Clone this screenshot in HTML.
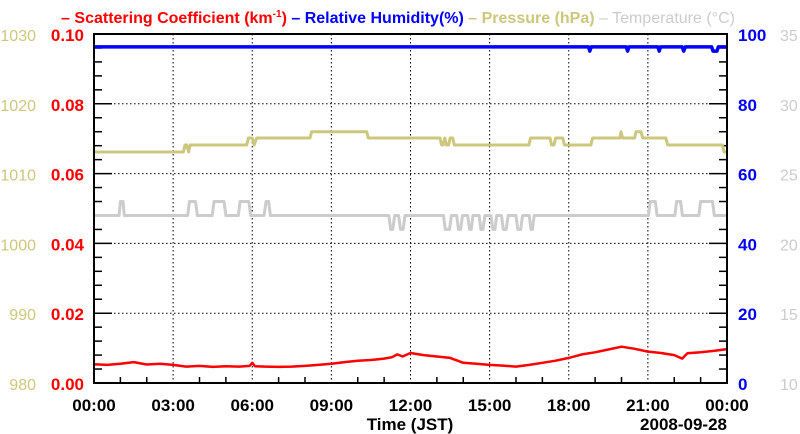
<!DOCTYPE html>
<html><head><meta charset="utf-8"><style>
body{margin:0;background:#fff;width:800px;height:434px;overflow:hidden}
svg{display:block;font-family:"Liberation Sans",sans-serif;font-weight:bold}
</style></head><body>
<svg id="c" width="800" height="434"></svg>
<script>
const hoursTicks=["00:00","03:00","06:00","09:00","12:00","15:00","18:00","21:00","00:00"];
const scatTicks=["0.00","0.02","0.04","0.06","0.08","0.10"];
const presTicks=["980","990","1000","1010","1020","1030"];
const rhTicks=["0","20","40","60","80","100"];
const tempTicks=["10","15","20","25","30","35"];
const scatHours=[0,0.5,1,1.5,2,2.5,3,3.5,4,4.5,5,5.5,5.9,6,6.1,6.5,7,7.5,8,8.5,9,9.5,10,10.5,11,11.3,11.5,11.7,12,12.5,13,13.5,14,14.5,15,15.5,16,16.5,17,17.5,18,18.5,19,19.5,20,20.5,21,21.5,22,22.3,22.5,23,23.5,24];
const scatVals=[0.0054,0.0052,0.0055,0.0060,0.0053,0.0055,0.0052,0.0047,0.0049,0.0046,0.0048,0.0047,0.0049,0.0058,0.0048,0.0047,0.0046,0.0047,0.0049,0.0052,0.0055,0.0060,0.0064,0.0066,0.0070,0.0074,0.0082,0.0076,0.0086,0.0080,0.0076,0.0072,0.0058,0.0055,0.0052,0.0050,0.0047,0.0052,0.0058,0.0064,0.0072,0.0082,0.0088,0.0096,0.0104,0.0098,0.0090,0.0086,0.0080,0.0070,0.0085,0.0088,0.0092,0.0097];
const rhHours=[0,18.75,18.8,18.85,20.18,20.23,20.28,21.38,21.43,21.48,22.3,22.36,22.42,23.42,23.47,23.62,23.67,24];
const rhVals=[96.3,96.3,95.1,96.3,96.3,95.1,96.3,96.3,95.1,96.3,96.3,95.1,96.3,96.3,95.1,95.1,96.3,96.3];
const presHours=[0,3.39,3.45,3.51,3.59,3.64,5.79,5.85,6.0,6.07,6.17,8.19,8.25,10.34,10.4,13.12,13.18,13.24,13.3,13.36,13.45,13.5,13.6,13.66,13.8,16.49,16.55,17.29,17.35,17.44,17.5,17.77,17.84,18.84,18.9,19.94,19.98,20.04,20.5,20.55,20.74,20.8,21.68,21.75,23.82,23.89,24];
const presVals=[1013.1,1013.1,1014.1,1014.1,1013.1,1014.1,1014.1,1015.1,1015.1,1014.1,1015.1,1015.1,1016.0,1016.0,1015.1,1015.1,1014.1,1014.1,1015.1,1014.1,1014.1,1015.1,1015.1,1014.1,1014.1,1014.1,1015.1,1015.1,1014.1,1014.1,1015.1,1015.1,1014.1,1014.1,1015.1,1015.1,1016.0,1015.1,1015.1,1016.0,1016.0,1015.1,1015.1,1014.1,1014.1,1013.1,1013.1];
const tempHours=[0,0.95,1.0,1.1,1.15,3.55,3.62,3.85,3.92,4.48,4.55,4.93,5.0,5.47,5.54,5.87,5.94,6.45,6.52,6.62,6.69,11.18,11.25,11.33,11.4,11.55,11.62,11.72,11.79,13.25,13.32,13.48,13.55,13.75,13.82,13.9,13.97,14.17,14.24,14.3,14.37,14.6,14.67,14.75,14.82,15.05,15.12,15.2,15.27,15.45,15.52,15.63,15.7,16.0,16.07,16.18,16.25,16.5,16.57,16.62,16.69,21.02,21.09,21.28,21.35,22.02,22.09,22.24,22.31,22.93,23.0,23.45,23.52,24];
const tempVals=[22,22,23,23,22,22,23,23,22,22,23,23,22,22,23,23,22,22,23,23,22,22,21,21,22,22,21,21,22,22,21,21,22,22,21,21,22,22,21,21,22,22,21,21,22,22,21,21,22,22,21,21,22,22,21,21,22,22,21,21,22,22,23,23,22,22,23,23,22,22,23,23,22,22];

const L=94,R=727,T=34,B=383;
const NS="http://www.w3.org/2000/svg";
const svg=document.getElementById('c');
function el(tag,attrs,parent){const e=document.createElementNS(NS,tag);for(const k in attrs)e.setAttribute(k,attrs[k]);(parent||svg).appendChild(e);return e;}
const xS=h=>L+(R-L)*h/24;
const yScat=v=>B-(B-T)*v/0.1;
const yRH=v=>B-(B-T)*v/100;
const yPres=v=>B-(B-T)*(v-980)/50;
const yTemp=v=>B-(B-T)*(v-10)/25;

// grid
for(let i=1;i<8;i++){const g=el('line',{x1:xS(i*3),x2:xS(i*3),y1:T,y2:B,stroke:'#000','stroke-width':1,'stroke-dasharray':'1.5,2.5'});

}
for(let i=1;i<5;i++){const g=el('line',{x1:L,x2:R,y1:yScat(i*0.02),y2:yScat(i*0.02),stroke:'#000','stroke-width':1,'stroke-dasharray':'1.5,2.5'});

}
// ticks
for(let h=0;h<=24;h++){const len=h%3==0?0:6;if(!len)continue;
const t=el('line',{x1:xS(h),x2:xS(h),y1:B,y2:B-len,stroke:'#000','stroke-width':1.5});

}
for(let i=0;i<=25;i++){const y=B-(B-T)*i/25;const len=i%5==0?18:8;
const a=el('line',{x1:L,x2:L+len,y1:y,y2:y,stroke:'#000','stroke-width':1.5});


const b=el('line',{x1:R,x2:R-len,y1:y,y2:y,stroke:'#000','stroke-width':1.5});

}

function series(hs,vs,yf,color,name,w){let d='';hs.forEach((h,i)=>{d+=(i?'L':'M')+xS(h).toFixed(1)+','+yf(vs[i]).toFixed(1);});
const p=el('path',{d:d,fill:'none',stroke:color,'stroke-width':w,'stroke-linejoin':'round'});

}
series(tempHours,tempVals,yTemp,'#cccccc','temperature-line',3);
series(presHours,presVals,yPres,'#cdc77e','pressure-line',3);
series(rhHours,rhVals,yRH,'#0000ff','humidity-line',3.5);
series(scatHours,scatVals,yScat,'#ff0000','scattering-line',2.5);

const fr=el('rect',{x:L,y:T,width:R-L,height:B-T,fill:'none',stroke:'#000','stroke-width':2});



function txt(x,y,s,color,anchor,size,name){const t=el('text',{x:x,y:y,fill:color,'text-anchor':anchor,'font-size':size});t.textContent=s;

return t;}
for(let i=0;i<6;i++){const y=B-(B-T)*i/5+7;
txt(36,y,presTicks[i],'#cdc77e','end',16,'pressure-tick-label').setAttribute('font-weight','normal');
txt(84,y,scatTicks[i],'#ff0000','end',17,'scatter-tick-label');
txt(738,y,rhTicks[i],'#0000ff','start',17,'humidity-tick-label');
txt(780,y,tempTicks[i],'#cccccc','start',16,'temperature-tick-label').setAttribute('font-weight','normal');}
hoursTicks.forEach((s,i)=>txt(xS(i*3),411,s,'#000','middle',17,'x-tick-label'));
txt(410,430,'Time (JST)','#000','middle',17,'x-axis-title');
txt(727,430,'2008-09-28','#000','end',17,'date-label');

const title=el('text',{x:398,y:23,'text-anchor':'middle','font-size':16});


title.innerHTML='<tspan fill="#ff0000">– Scattering Coefficient (km<tspan dy="-6" font-size="10">-1</tspan><tspan dy="6">) </tspan></tspan><tspan fill="#0000ff">– Relative Humidity(%) </tspan><tspan fill="#cdc77e">– Pressure (hPa) </tspan><tspan fill="#cccccc" font-weight="normal">– Temperature (°C)</tspan>';
</script>
</body></html>
